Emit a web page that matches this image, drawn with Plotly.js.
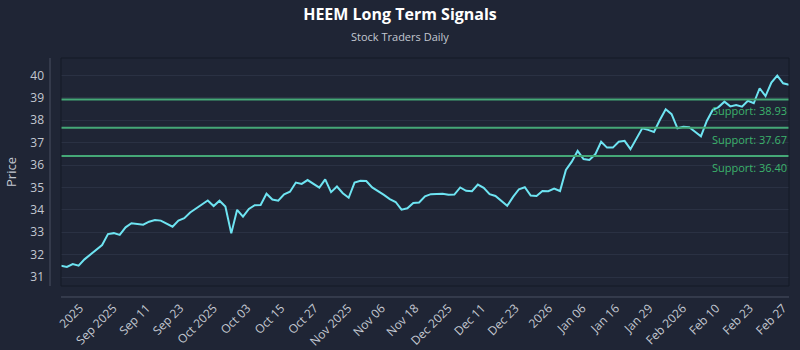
<!DOCTYPE html>
<html>
<head>
<meta charset="utf-8">
<script src="https://cdn.plot.ly/plotly-3.0.1.min.js"></script>
<style>
  html, body { margin: 0; padding: 0; background: #1f2535; }
  #chart { width: 800px; height: 350px; }
</style>
</head>
<body>
<div id="chart"></div>
<script>
// Daily closing prices (trading-day index order)
const PRICES = [
  31.50, 31.45, 31.58, 31.51, 31.79, 31.99, 32.21, 32.43, 32.92, 32.96,
  32.88, 33.22, 33.40, 33.36, 33.34, 33.47, 33.55, 33.52, 33.40, 33.25,
  33.52, 33.63, 33.88, 34.07, 34.22, 34.42, 34.17, 34.41, 34.15, 32.95,
  34.00, 33.70, 34.04, 34.21, 34.22, 34.72, 34.46, 34.41, 34.69, 34.81,
  35.22, 35.16, 35.33, 35.16, 34.99, 35.36, 34.79, 35.04, 34.74, 34.54,
  35.22, 35.30, 35.29, 35.00, 34.84, 34.67, 34.48, 34.35, 34.01, 34.07,
  34.31, 34.33, 34.60, 34.70, 34.71, 34.72, 34.67, 34.68, 35.00, 34.85,
  34.83, 35.13, 34.98, 34.70, 34.62, 34.42, 34.18, 34.58, 34.92, 35.01,
  34.64, 34.62, 34.84, 34.83, 34.95, 34.84, 35.78, 36.15, 36.63, 36.27,
  36.23, 36.48, 37.04, 36.78, 36.78, 37.04, 37.08, 36.71, 37.20, 37.64,
  37.57, 37.48, 38.01, 38.49, 38.27, 37.64, 37.71, 37.69, 37.49, 37.28,
  37.97, 38.46, 38.59, 38.83, 38.62, 38.68, 38.61, 38.87, 38.76, 39.43,
  39.08, 39.68, 39.99, 39.65, 39.58
];

// Tick positions (trading-day index) and their labels
const TICK_POS = [3.2, 8.9, 14.6, 20.3, 26.0, 31.7, 37.5, 43.2, 48.9, 54.6, 60.3,
                  66.0, 71.7, 77.4, 83.1, 88.8, 94.5, 100.2, 105.9, 111.6, 117.3, 123.0];
const TICK_TEXT = ['2025', 'Sep 2025', 'Sep 11', 'Sep 23', 'Oct 2025', 'Oct 03', 'Oct 15',
                   'Oct 27', 'Nov 2025', 'Nov 06', 'Nov 18', 'Dec 2025', 'Dec 11', 'Dec 23',
                   '2026', 'Jan 06', 'Jan 16', 'Jan 29', 'Feb 2026', 'Feb 10', 'Feb 23', 'Feb 27'];

// Support levels
const SUPPORT_LEVELS = [38.93, 37.67, 36.40];
const SUPPORT_LABELS = ['Support: 38.93', 'Support: 37.67', 'Support: 36.40'];

const Y_TICKS = [31, 32, 33, 34, 35, 36, 37, 38, 39, 40];

const FONT = '"Open Sans", "Noto Sans", sans-serif';
const BG = '#1f2535';
const TEXT = '#c3c8d1';
const GREEN_LINE = '#45a877';
const GREEN_TEXT = '#3cb36c';

const idx = PRICES.map((_, i) => i);

const trace = {
  type: 'scatter',
  mode: 'lines',
  x: idx,
  y: PRICES,
  line: { color: '#6ee4f2', width: 2 },
  hoverinfo: 'skip',
  showlegend: false
};

const shapes = [];
SUPPORT_LEVELS.forEach(v => {
  shapes.push({
    type: 'line', xref: 'paper', yref: 'y',
    x0: 0, x1: 1, y0: v, y1: v,
    line: { color: GREEN_LINE, width: 2 }
  });
});
// plot frame
shapes.push({
  type: 'rect', xref: 'paper', yref: 'paper', x0: 0, x1: 1, y0: 0, y1: 1,
  line: { color: '#141a27', width: 1 }, layer: 'above'
});
// offset axis lines
shapes.push({
  type: 'line', xref: 'paper', yref: 'paper', x0: -0.0151, x1: -0.0151, y0: 0, y1: 1,
  line: { color: '#4a5163', width: 1 }
});
shapes.push({
  type: 'line', xref: 'paper', yref: 'paper', x0: 0, x1: 1, y0: -0.0482, y1: -0.0482,
  line: { color: '#4a5163', width: 1 }
});

const annotations = SUPPORT_LEVELS.map((v, i) => ({
  xref: 'paper', yref: 'y', x: 1, y: v,
  xanchor: 'right', yanchor: 'top', yshift: -2,
  text: SUPPORT_LABELS[i], showarrow: false,
  font: { family: FONT, size: 11, color: GREEN_TEXT }
}));
// subtitle
annotations.push({
  xref: 'paper', yref: 'paper', x: 0.4657, y: 1.095,
  xanchor: 'center', yanchor: 'middle', showarrow: false,
  text: 'Stock Traders Daily',
  font: { family: FONT, size: 11, color: TEXT }
});

const layout = {
  width: 800, height: 350,
  paper_bgcolor: BG, plot_bgcolor: BG,
  margin: { l: 61, r: 11, t: 58, b: 64 },
  font: { family: FONT, color: TEXT },
  title: {
    text: '<b>HEEM Long Term Signals</b>',
    x: 0.5, xanchor: 'center', xref: 'container',
    y: 0.976, yanchor: 'top', yref: 'container',
    font: { family: FONT, size: 16, color: '#ffffff' }
  },
  xaxis: {
    range: [0, PRICES.length - 1],
    tickmode: 'array', tickvals: TICK_POS, ticktext: TICK_TEXT,
    tickangle: -45, ticks: '', showgrid: false, zeroline: false, showline: false,
    ticklabelstandoff: 12,
    tickfont: { family: FONT, size: 12, color: TEXT },
    automargin: false
  },
  yaxis: {
    range: [30.6, 40.78],
    tickmode: 'array', tickvals: Y_TICKS, ticktext: Y_TICKS.map(String),
    ticks: '', showgrid: true, gridcolor: '#2a3143', gridwidth: 1,
    zeroline: false, showline: false,
    ticklabelstandoff: 16,
    tickfont: { family: FONT, size: 12, color: TEXT },
    title: { text: 'Price', font: { family: FONT, size: 13, color: TEXT }, standoff: 10 },
    automargin: false
  },
  shapes: shapes,
  annotations: annotations
};

Plotly.newPlot('chart', [trace], layout, { displayModeBar: false, staticPlot: true });
</script>
</body>
</html>
